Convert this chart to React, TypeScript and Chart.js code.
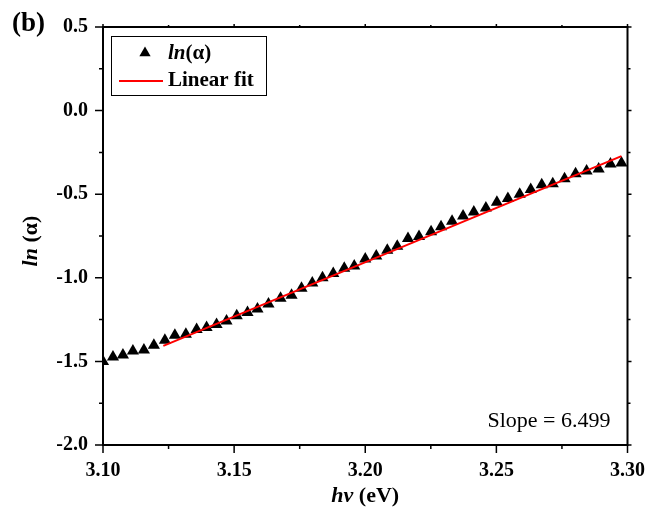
import React, { useEffect, useRef } from 'react';
import { Chart, registerables } from 'chart.js';

Chart.register(...registerables);

// ---- data ----
const hv = [
  3.1000, 3.1038, 3.1076, 3.1114, 3.1156, 3.1194, 3.1236, 3.1274, 3.1316, 3.1357,
  3.1395, 3.1433, 3.1471, 3.1510, 3.1551, 3.1589, 3.1631, 3.1677, 3.1719, 3.1757,
  3.1798, 3.1837, 3.1878, 3.1920, 3.1958, 3.2000, 3.2042, 3.2084, 3.2122, 3.2163,
  3.2205, 3.2251, 3.2289, 3.2331, 3.2373, 3.2414, 3.2460, 3.2502, 3.2544, 3.2589,
  3.2631, 3.2673, 3.2715, 3.2760, 3.2802, 3.2844, 3.2890, 3.2935, 3.2977,
];
const lnAlpha = [
  -1.500, -1.473, -1.461, -1.438, -1.432, -1.403, -1.374, -1.344, -1.338, -1.309,
  -1.297, -1.280, -1.259, -1.227, -1.207, -1.186, -1.157, -1.122, -1.104, -1.063,
  -1.031, -0.999, -0.975, -0.943, -0.929, -0.888, -0.870, -0.835, -0.811, -0.765,
  -0.753, -0.724, -0.694, -0.662, -0.630, -0.607, -0.583, -0.548, -0.525, -0.501,
  -0.472, -0.443, -0.437, -0.407, -0.378, -0.361, -0.349, -0.320, -0.314,
];
const fitHv = [3.1230, 3.2977];
const fitLn = [-1.407, -0.272];

const xTicks = [3.10, 3.15, 3.20, 3.25, 3.30];
const yTicks = [-2.0, -1.5, -1.0, -0.5, 0.0, 0.5];

const panelLabel = '(b)';
const slopeText = 'Slope = 6.499';
const seriesNameItalic = 'ln';
const seriesNameRest = '(\u03B1)';
const fitName = 'Linear fit';
const yTitleItalic = 'ln';
const yTitleRest = ' (\u03B1)';
const xTitleItalic = 'hv';
const xTitleRest = ' (eV)';

const SERIF = '"Liberation Serif", "Times New Roman", serif';

type Part = { text: string; font: string };

function drawParts(ctx: CanvasRenderingContext2D, parts: Part[], cx: number, cy: number) {
  let total = 0;
  const widths = parts.map((p) => {
    ctx.font = p.font;
    const w = ctx.measureText(p.text).width;
    total += w;
    return w;
  });
  let x = cx - total / 2;
  ctx.textBaseline = 'middle';
  ctx.textAlign = 'left';
  parts.forEach((p, i) => {
    ctx.font = p.font;
    ctx.fillText(p.text, x, cy);
    x += widths[i];
  });
}

function drawPartsLeft(ctx: CanvasRenderingContext2D, parts: Part[], x0: number, cy: number) {
  let x = x0;
  ctx.textBaseline = 'middle';
  ctx.textAlign = 'left';
  parts.forEach((p) => {
    ctx.font = p.font;
    ctx.fillText(p.text, x, cy);
    x += ctx.measureText(p.text).width;
  });
}

const decorPlugin = {
  id: 'decor',
  afterDraw(chart: any) {
    const { ctx, chartArea: a, scales } = chart;
    const xs = scales.x;
    const ys = scales.y;
    ctx.save();
    ctx.fillStyle = '#000';
    ctx.strokeStyle = '#000';

    // frame
    ctx.lineWidth = 2;
    ctx.strokeRect(a.left, a.top, a.right - a.left, a.bottom - a.top);

    // ticks
    ctx.lineWidth = 1.5;
    const xMinor: number[] = [];
    for (let i = 0; i < xTicks.length - 1; i++) xMinor.push((xTicks[i] + xTicks[i + 1]) / 2);
    const yMinor: number[] = [];
    for (let i = 0; i < yTicks.length - 1; i++) yMinor.push((yTicks[i] + yTicks[i + 1]) / 2);

    ctx.beginPath();
    xTicks.forEach((v) => {
      const px = xs.getPixelForValue(v);
      ctx.moveTo(px, a.bottom);
      ctx.lineTo(px, a.bottom + 8);
      ctx.moveTo(px, a.top);
      ctx.lineTo(px, a.top - 3);
    });
    xMinor.forEach((v) => {
      const px = xs.getPixelForValue(v);
      ctx.moveTo(px, a.bottom);
      ctx.lineTo(px, a.bottom + 4);
      ctx.moveTo(px, a.top);
      ctx.lineTo(px, a.top - 2);
    });
    yTicks.forEach((v) => {
      const py = ys.getPixelForValue(v);
      ctx.moveTo(a.left, py);
      ctx.lineTo(a.left - 8, py);
      ctx.moveTo(a.right, py);
      ctx.lineTo(a.right + 4, py);
    });
    yMinor.forEach((v) => {
      const py = ys.getPixelForValue(v);
      ctx.moveTo(a.left, py);
      ctx.lineTo(a.left - 4, py);
      ctx.moveTo(a.right, py);
      ctx.lineTo(a.right + 3, py);
    });
    ctx.stroke();

    // legend
    const lx = a.left + 8;
    const ly = a.top + 9;
    const lw = 155;
    const lh = 59;
    ctx.lineWidth = 1;
    ctx.fillStyle = '#fff';
    ctx.fillRect(lx, ly, lw, lh);
    ctx.strokeRect(lx + 0.5, ly + 0.5, lw, lh);
    ctx.fillStyle = '#000';
    const r1 = ly + 18;
    const r2 = ly + 45;
    // triangle
    const tx = lx + 34;
    const tr = 6.5;
    const tc = r1 - 1;
    ctx.beginPath();
    ctx.moveTo(tx, tc - tr);
    ctx.lineTo(tx + tr * 0.866, tc + tr / 2);
    ctx.lineTo(tx - tr * 0.866, tc + tr / 2);
    ctx.closePath();
    ctx.fill();
    // red line
    ctx.strokeStyle = '#ff0000';
    ctx.lineWidth = 2;
    ctx.beginPath();
    ctx.moveTo(lx + 8, r2);
    ctx.lineTo(lx + 52, r2);
    ctx.stroke();
    drawPartsLeft(ctx, [
      { text: seriesNameItalic, font: `italic bold 21px ${SERIF}` },
      { text: seriesNameRest, font: `bold 21px ${SERIF}` },
    ], lx + 57, r1);
    drawPartsLeft(ctx, [{ text: fitName, font: `bold 21px ${SERIF}` }], lx + 57, r2);

    // slope text
    ctx.font = `22px ${SERIF}`;
    ctx.textAlign = 'right';
    ctx.textBaseline = 'middle';
    ctx.fillText(slopeText, a.right - 17, a.bottom - 24);

    // panel label
    ctx.font = `bold 27px ${SERIF}`;
    ctx.textAlign = 'left';
    ctx.textBaseline = 'middle';
    ctx.fillText(panelLabel, 12, 24);

    // x title
    drawParts(ctx, [
      { text: xTitleItalic, font: `italic bold 22px ${SERIF}` },
      { text: xTitleRest, font: `bold 22px ${SERIF}` },
    ], (a.left + a.right) / 2, 496);

    // y title
    ctx.save();
    ctx.translate(31, (a.top + a.bottom) / 2 + 5);
    ctx.rotate(-Math.PI / 2);
    drawParts(ctx, [
      { text: yTitleItalic, font: `italic bold 22px ${SERIF}` },
      { text: yTitleRest, font: `bold 22px ${SERIF}` },
    ], 0, 0);
    ctx.restore();

    ctx.restore();
  },
};

export default function App() {
  const ref = useRef<HTMLCanvasElement | null>(null);

  useEffect(() => {
    if (!ref.current) return;
    const chart = new Chart(ref.current, {
      type: 'scatter',
      data: {
        datasets: [
          {
            label: fitName,
            data: fitHv.map((x, i) => ({ x, y: fitLn[i] })),
            showLine: true,
            borderColor: '#ff0000',
            borderWidth: 2,
            pointRadius: 0,
            order: 0,
            clip: 0,
          } as any,
          {
            label: 'ln(\u03B1)',
            data: hv.map((x, i) => ({ x, y: lnAlpha[i] })),
            pointStyle: 'triangle',
            pointRadius: 7,
            backgroundColor: '#000',
            borderColor: '#000',
            borderWidth: 0,
            order: 1,
            clip: 0,
          } as any,
        ],
      },
      options: {
        animation: false,
        responsive: false,
        maintainAspectRatio: false,
        layout: { padding: { top: 18, right: 30, left: 0, bottom: 0 } },
        plugins: {
          legend: { display: false },
          tooltip: { enabled: false },
        },
        scales: {
          x: {
            type: 'linear',
            min: 3.1,
            max: 3.3,
            grid: { display: false, drawTicks: false },
            border: { display: false },
            afterBuildTicks: (s: any) => {
              s.ticks = xTicks.map((v) => ({ value: v }));
            },
            afterFit: (s: any) => {
              s.height = 68;
            },
            ticks: {
              autoSkip: false,
              maxRotation: 0,
              padding: 14,
              color: '#000',
              font: { family: SERIF, size: 20, weight: 'bold' },
              callback: (v: any) => Number(v).toFixed(2),
            },
          },
          y: {
            type: 'linear',
            min: -2.0,
            max: 0.5,
            grid: { display: false, drawTicks: false },
            border: { display: false },
            afterBuildTicks: (s: any) => {
              s.ticks = yTicks.map((v) => ({ value: v }));
            },
            afterFit: (s: any) => {
              s.width = 103;
            },
            ticks: {
              autoSkip: false,
              padding: 15,
              color: '#000',
              font: { family: SERIF, size: 20, weight: 'bold' },
              callback: (v: any) => Number(v).toFixed(1),
            },
          },
        },
      } as any,
      plugins: [decorPlugin],
    });
    return () => chart.destroy();
  }, []);

  return (
    <div style={{ position: 'absolute', left: 0, top: 0, width: 659, height: 513, background: '#fff' }}>
      <canvas ref={ref} width={659} height={513} style={{ width: 659, height: 513, display: 'block' }} />
    </div>
  );
}
